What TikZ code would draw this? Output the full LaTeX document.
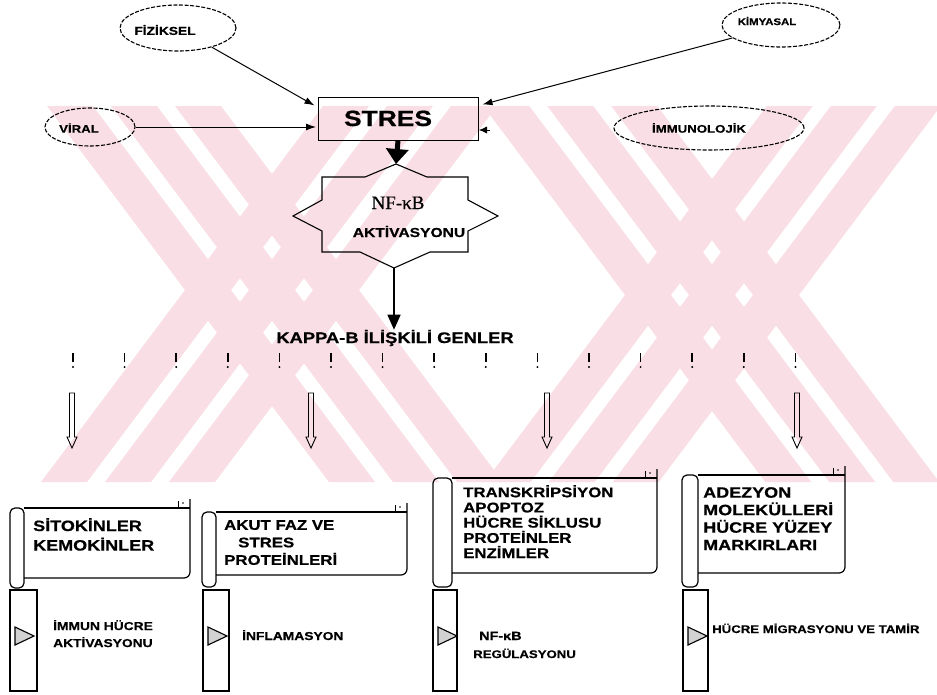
\documentclass[tikz,border=0pt]{standalone}
\usepackage{fontspec}
\usetikzlibrary{arrows.meta,calc,shapes.geometric}
\newfontfamily\lbf{Liberation Sans}[FakeStretch=1.2, FakeBold=0.6]
\newfontfamily\lsf{Liberation Serif}[FakeBold=0.5]
\newcommand{\fsz}[2]{\fontsize{#1}{#2}\selectfont}
\definecolor{wmpink}{RGB}{249,223,229}
% scroll: #1 roll left x, #2 roll right x, #3 right edge x, #4 top y, #5 bottom y, #6 roll bottom y
\newcommand{\scrl}[6]{%
  \draw[sc, rounded corners=5pt] (#1,#4) rectangle (#2,#6);
  \draw[sc] (#2,#4) -- (#3,#4);
  \draw[sc, rounded corners=6pt] (#3,#4-9) -- (#3,#5) -- (#2,#5);
  \draw[sc, line width=0.8pt] (#3-12,#4-7) -- (#3-12,#4);
  \fill (#3-7,#4-5) circle (0.8pt);
}
\newcommand{\hollowarr}[1]{%
  \draw[line width=0.9pt] (#1-2.5,393) -- (#1+2.5,393) -- (#1+2.5,437) -- (#1+5,437) -- (#1,448) -- (#1-5,437) -- (#1-2.5,437) -- cycle;
}
\newcommand{\barrect}[2]{%
  \draw[rb] (#1,590) rectangle (#2,691);
  \draw[tri] (#1+5,627) -- (#1+5,645) -- (#1+24,636) -- cycle;
}
\begin{document}
\begin{tikzpicture}[x=1pt,y=-1pt,
  lbl/.style={inner sep=0pt, font=\lbf\bfseries},
  ell/.style={draw, ellipse, dash pattern=on 4pt off 1.6pt, line width=1.1pt, inner sep=0pt},
  arr/.style={line width=1pt, -{Latex[length=10pt,width=7pt]}},
  sc/.style={line width=1.2pt},
  rb/.style={line width=1.6pt},
  tri/.style={line width=1.1pt, fill=gray!35}]
\useasboundingbox (0,0) rectangle (937,694);
\clip (0,0) rectangle (937,694);
\fill[white] (0,0) rectangle (937,694);

% background watermark stripes
\begin{scope}
\clip (0,106) rectangle (937,482);
\foreach \cx/\cy in {272/290, 712/295} {
  \foreach \s in {1,-1} {
    \foreach \o in {-64,0,64} {
      \fill[wmpink] ({\cx+\s*0.75*(106-\cy)+\o-23},106) -- ({\cx+\s*0.75*(106-\cy)+\o+23},106)
        -- ({\cx+\s*0.75*(482-\cy)+\o+23},482) -- ({\cx+\s*0.75*(482-\cy)+\o-23},482) -- cycle;
    }
  }
}
\end{scope}

% source ellipses
\node[ell, minimum width=116pt, minimum height=46pt] (fiz) at (178,28) {};
\node[lbl, font=\lbf\bfseries\fsz{11.5}{13}] (fiztxt) at (165,30) {FİZİKSEL};
\node[ell, minimum width=118pt, minimum height=44pt] (kim) at (781,25) {};
\node[lbl, font=\lbf\bfseries\fsz{9.5}{11}] (kimtxt) at (767,21) {KİMYASAL};
\node[ell, minimum width=90pt, minimum height=38pt] (vir) at (90,127) {};
\node[lbl, font=\lbf\bfseries\fsz{11}{13}] (virtxt) at (79,128) {VİRAL};
\node[ell, minimum width=190pt, minimum height=44pt] (imm) at (709,128) {};
\node[lbl, font=\lbf\bfseries\fsz{11}{13}] (immtxt) at (699,128) {İMMUNOLOJİK};

% STRES box
\node[draw, line width=1pt, minimum width=160pt, minimum height=43pt, inner sep=0pt] (stres) at (398,118.5) {};
\node[lbl, font=\lbf\bfseries\fsz{22}{24}, anchor=base] (strestxt) at (388,126) {STRES};

\coordinate (fizend) at ($(stres.north west)+(-3,9)$);
\coordinate (kimend) at ($(stres.north east)+(4,8)$);
\coordinate (virend) at (316,127);
\coordinate (immend) at (479,130);
\coordinate (immstart) at (490,130);
\draw[arr] (fiz) -- (fizend);
\draw[arr] (kim) -- (kimend);
\draw[arr] (vir) -- (virend);
\draw[line width=0.5pt, -{Latex[length=8pt,width=7pt]}] (immstart) -- (immend);

% star
\coordinate (startop) at (396,164);
\coordinate (starbot) at (394,268);
\draw[line width=1.1pt] (396,164) -- (427,177) -- (468,177) -- (468,200) -- (498,216) -- (468,231) -- (468,252)
  -- (430,252) -- (394,268) -- (360,252) -- (322,252) -- (322,231) -- (293,216) -- (322,200) -- (322,177)
  -- (365,177) -- cycle;
\node[inner sep=0pt, font=\lsf\fsz{19}{21}, anchor=base] (nfkb) at (398,209) {NF-κB};
\node[lbl, font=\lbf\bfseries\fsz{13}{15}, anchor=base] (aktiv) at (409,237) {AKTİVASYONU};

\draw[line width=5pt, -{Triangle[length=15pt,width=22pt]}] (stres.south) -- (startop);

% to genes
\node[lbl, font=\lbf\bfseries\fsz{15.3}{17}, anchor=base] (kappa) at (395,343) {KAPPA-B İLİŞKİLİ GENLER};
\draw[line width=1.6pt, -{Triangle[length=15pt,width=13pt]}] (starbot) -- (kappa.north -| starbot);

% exclamation row
\foreach \i in {0,...,14} {
  \draw[line width=1.5pt] (73+51.6*\i,353) -- (73+51.6*\i,362);
  \fill (73+51.6*\i,367) circle (1.1pt);
}

% hollow arrows
\hollowarr{72}
\hollowarr{311}
\hollowarr{547}
\hollowarr{797}

% scrolls
\scrl{10}{24}{190}{508}{578}{588}
\scrl{202}{216}{407}{512}{575}{587}
\scrl{433}{452}{657}{478}{573}{587}
\scrl{682}{698}{845}{475}{573}{587}

\node[lbl, anchor=north west, align=left, font=\lbf\bfseries\fsz{15}{19.5}] (s1) at (33,518) {SİTOKİNLER\\KEMOKİNLER};
\node[lbl, anchor=north west, align=left, font=\lbf\bfseries\fsz{14}{17.5}] (s2) at (224,520) {AKUT FAZ VE\\\hspace*{14pt}STRES\\PROTEİNLERİ};
\node[lbl, anchor=north west, align=left, font=\lbf\bfseries\fsz{14}{15.2}] (s3) at (463,485) {TRANSKRİPSİYON\\APOPTOZ\\HÜCRE SİKLUSU\\PROTEİNLER\\ENZİMLER};
\node[lbl, anchor=north west, align=left, font=\lbf\bfseries\fsz{15}{17.5}] (s4) at (703,487) {ADEZYON\\MOLEKÜLLERİ\\HÜCRE YÜZEY\\MARKIRLARI};

% bars
\barrect{10}{37}
\barrect{203}{229}
\barrect{433}{457}
\barrect{683}{708}

\node[lbl, anchor=north west, align=left, font=\lbf\bfseries\fsz{11.5}{17}] (b1) at (53,620) {İMMUN HÜCRE\\AKTİVASYONU};
\node[lbl, anchor=base west, font=\lbf\bfseries\fsz{11.5}{13}] (b2) at (242,640) {İNFLAMASYON};
\node[lbl, anchor=base west, font=\lbf\bfseries\fsz{12}{14}] (b3a) at (479,640) {NF-κB};
\node[lbl, anchor=base west, font=\lbf\bfseries\fsz{11}{13}] (b3b) at (473,658) {REGÜLASYONU};
\node[lbl, anchor=base west, font=\lbf\bfseries\fsz{11}{13}] (b4) at (712,633) {HÜCRE MİGRASYONU VE TAMİR};
\end{tikzpicture}
\end{document}
